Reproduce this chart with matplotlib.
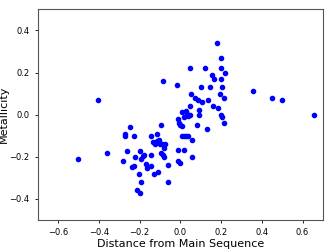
import matplotlib
matplotlib.use("Agg")
import matplotlib.pyplot as plt

# distance from main sequence vs metallicity
dist = [
    0.181, 0.198, 0.046, 0.121, 0.199, 0.219, 0.157, 0.165, 0.198, -0.085,
    -0.016, 0.101, 0.144, 0.207, 0.051, 0.193, 0.359, -0.403, 0.070, 0.087,
    0.108, 0.134, 0.214, 0.449, 0.498, 0.049, 0.163, 0.186, 0.091, 0.091,
    0.658, 0.010, 0.029, 0.033, 0.016, 0.039, 0.049, -0.013, -0.007, 0.000,
    0.010, 0.082, 0.131, 0.207, 0.200, 0.214,
    0.007, 0.016, 0.026, 0.036, 0.056, -0.010, 0.016, 0.057, -0.011, -0.003,
    -0.060, -0.060,
    -0.247, -0.273, -0.269, -0.227, -0.145, -0.116, -0.096, -0.136, -0.122,
    -0.116, -0.103, -0.100, -0.090, -0.073, -0.080, -0.263, -0.220, -0.198,
    -0.194, -0.184, -0.176, -0.142, -0.096, -0.087, -0.080, -0.279, -0.237,
    -0.227, -0.168, -0.162, -0.142, -0.201, -0.129, -0.109, -0.214, -0.198,
    -0.194, -0.359, -0.504,
]
metal = [
    0.34, 0.27, 0.22, 0.22, 0.22, 0.20, 0.19, 0.17, 0.17, 0.16,
    0.14, 0.13, 0.13, 0.13, 0.10, 0.10, 0.11, 0.07, 0.08, 0.07,
    0.06, 0.07, 0.08, 0.08, 0.07, 0.04, 0.04, 0.03, 0.02, 0.00,
    0.00, 0.011, 0.017, 0.002, -0.011, -0.008, -0.002, -0.021, -0.040, -0.049,
    -0.052, -0.05, -0.07, -0.01, 0.00, -0.04,
    -0.10, -0.10, -0.10, -0.10, -0.118, -0.17, -0.17, -0.20, -0.22, -0.23,
    -0.24, -0.32,
    -0.058, -0.090, -0.100, -0.100, -0.100, -0.090, -0.049, -0.131, -0.138,
    -0.125, -0.122, -0.141, -0.141, -0.141, -0.160, -0.171, -0.201, -0.171,
    -0.210, -0.198, -0.190, -0.190, -0.182, -0.191, -0.201, -0.220, -0.248,
    -0.242, -0.232, -0.251, -0.242, -0.280, -0.280, -0.270, -0.359, -0.372,
    -0.321, -0.180, -0.210,
]

fig = plt.figure(figsize=(3.36, 2.52), dpi=100)
ax = fig.add_axes([0.112, 0.127, 0.849, 0.836])
ax.plot(dist, metal, "bo", markersize=3)

ax.set_xlim(-0.7, 0.7)
ax.set_ylim(-0.5, 0.5)
ax.set_xticks([-0.6, -0.4, -0.2, 0.0, 0.2, 0.4, 0.6])
ax.set_yticks([-0.4, -0.2, 0.0, 0.2, 0.4])
ax.tick_params(labelsize=6, length=2.5, width=0.6)
for s in ax.spines.values():
    s.set_linewidth(0.8)
    s.set_color("#555555")

ax.set_xlabel("Distance from Main Sequence", fontsize=8, labelpad=1)
ax.set_ylabel("Metallicity", fontsize=8, labelpad=0)

fig.savefig("out.png", dpi=100)
